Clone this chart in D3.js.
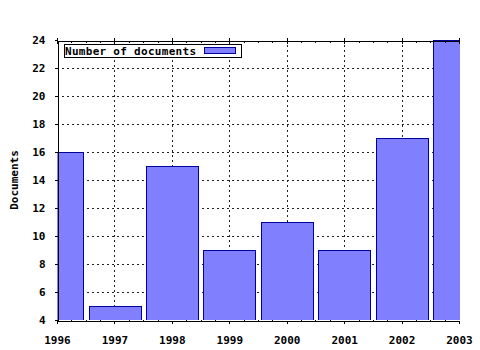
<!DOCTYPE html>
<html>
<head>
<meta charset="utf-8">
<script src="https://cdn.jsdelivr.net/npm/d3@7"></script>
<style>
  body { margin: 0; background: #fff; }
  text { font-family: "DejaVu Sans Mono", monospace; font-weight: bold; font-size: 11px; fill: #000; }
</style>
</head>
<body>
<div id="chart"></div>
<script>
// chart data
var years = [1996, 1997, 1998, 1999, 2000, 2001, 2002, 2003];
var documents = [16, 5, 15, 9, 11, 9, 17, 24];
var yTicks = [4, 6, 8, 10, 12, 14, 16, 18, 20, 22, 24];
var seriesName = "Number of documents";

var plotLeft = 57, plotRight = 459, plotTop = 40, plotBottom = 320;

var svg = d3.select("#chart").append("svg")
  .attr("width", 480)
  .attr("height", 350);

var x = d3.scaleLinear().domain([1996, 2003]).range([plotLeft, plotRight]);
var y = d3.scaleLinear().domain([4, 24]).range([plotBottom, plotTop]);
var step = x(1997) - x(1996);
var barW = step * 0.9;

svg.append("defs").append("clipPath")
  .attr("id", "plotclip")
  .append("rect")
  .attr("x", plotLeft).attr("y", plotTop)
  .attr("width", plotRight - plotLeft + 1).attr("height", plotBottom - plotTop);

// grid
var grid = svg.append("g")
  .attr("stroke", "#222")
  .attr("stroke-width", 1)
  .attr("stroke-dasharray", "2,3")
  .attr("shape-rendering", "crispEdges");
grid.selectAll(".hg").data(yTicks.slice(1, -1)).enter().append("line")
  .attr("x1", plotLeft).attr("x2", plotRight)
  .attr("y1", function(d) { return Math.round(y(d)) + 0.5; })
  .attr("y2", function(d) { return Math.round(y(d)) + 0.5; });
grid.selectAll(".vg").data(years.slice(1, -1)).enter().append("line")
  .attr("y1", plotTop).attr("y2", plotBottom)
  .attr("x1", function(d) { return Math.round(x(d)) + 0.5; })
  .attr("x2", function(d) { return Math.round(x(d)) + 0.5; });

// bars
svg.append("g")
  .attr("clip-path", "url(#plotclip)")
  .selectAll("rect").data(years).enter().append("rect")
  .attr("x", function(d) { return Math.round(x(d) - barW / 2) + 0.5; })
  .attr("width", Math.round(barW))
  .attr("y", function(d, i) { return Math.round(y(documents[i])) + 0.5; })
  .attr("height", function(d, i) { return Math.round(y(4) - y(documents[i])); })
  .attr("fill", "#8080ff")
  .attr("stroke", "#0000a0")
  .attr("stroke-width", 1);

// axes
var bottomAxis = d3.axisBottom(x).tickValues(years).tickFormat(d3.format("d"))
  .tickSizeInner(3).tickSizeOuter(0).tickPadding(9);
var gb = svg.append("g")
  .attr("transform", "translate(0," + (plotBottom + 0.5) + ")")
  .call(bottomAxis);

var topAxis = d3.axisTop(x).tickValues(years).tickFormat("").tickSizeInner(3).tickSizeOuter(0);
var gt = svg.append("g")
  .attr("transform", "translate(0," + (plotTop + 0.5) + ")")
  .call(topAxis);

var leftAxis = d3.axisLeft(y).tickValues(yTicks).tickSizeInner(3).tickSizeOuter(0).tickPadding(9);
var gl = svg.append("g")
  .attr("transform", "translate(" + (plotLeft + 0.5) + ",0)")
  .call(leftAxis);

[gb, gt, gl].forEach(function(g) {
  g.attr("font-family", null).attr("font-size", null);
  g.selectAll("path, line").attr("stroke", "#000").attr("shape-rendering", "crispEdges");
});
gb.selectAll(".tick text").attr("dy", "1.0em");
gt.selectAll(".tick line").attr("y2", 6).attr("transform", "translate(0,-3)");

// minor ticks on top and bottom
var minor = [];
years.slice(0, -1).forEach(function(yr) {
  [0.25, 0.5, 0.75].forEach(function(f) { minor.push(yr + f); });
});
var mg = svg.append("g").attr("stroke", "#000").attr("shape-rendering", "crispEdges");
mg.selectAll(".mb").data(minor).enter().append("line")
  .attr("x1", function(d) { return Math.round(x(d)) + 0.5; })
  .attr("x2", function(d) { return Math.round(x(d)) + 0.5; })
  .attr("y1", plotBottom).attr("y2", plotBottom + 2);
mg.selectAll(".mt").data(minor).enter().append("line")
  .attr("x1", function(d) { return Math.round(x(d)) + 0.5; })
  .attr("x2", function(d) { return Math.round(x(d)) + 0.5; })
  .attr("y1", plotTop + 1).attr("y2", plotTop + 3);

// y label
svg.append("text")
  .attr("transform", "translate(18," + ((plotTop + plotBottom) / 2) + ") rotate(-90)")
  .attr("text-anchor", "middle")
  .text("Documents");

// legend
var legend = svg.append("g");
legend.append("rect")
  .attr("x", 64.5).attr("y", 44.5)
  .attr("width", 177).attr("height", 13)
  .attr("fill", "#fff").attr("stroke", "#000");
legend.append("text")
  .attr("x", 65).attr("y", 55)
  .attr("textLength", 131)
  .text(seriesName);
legend.append("rect")
  .attr("x", 204.5).attr("y", 47.5)
  .attr("width", 31).attr("height", 6)
  .attr("fill", "#8080ff").attr("stroke", "#0000a0");
</script>
</body>
</html>
